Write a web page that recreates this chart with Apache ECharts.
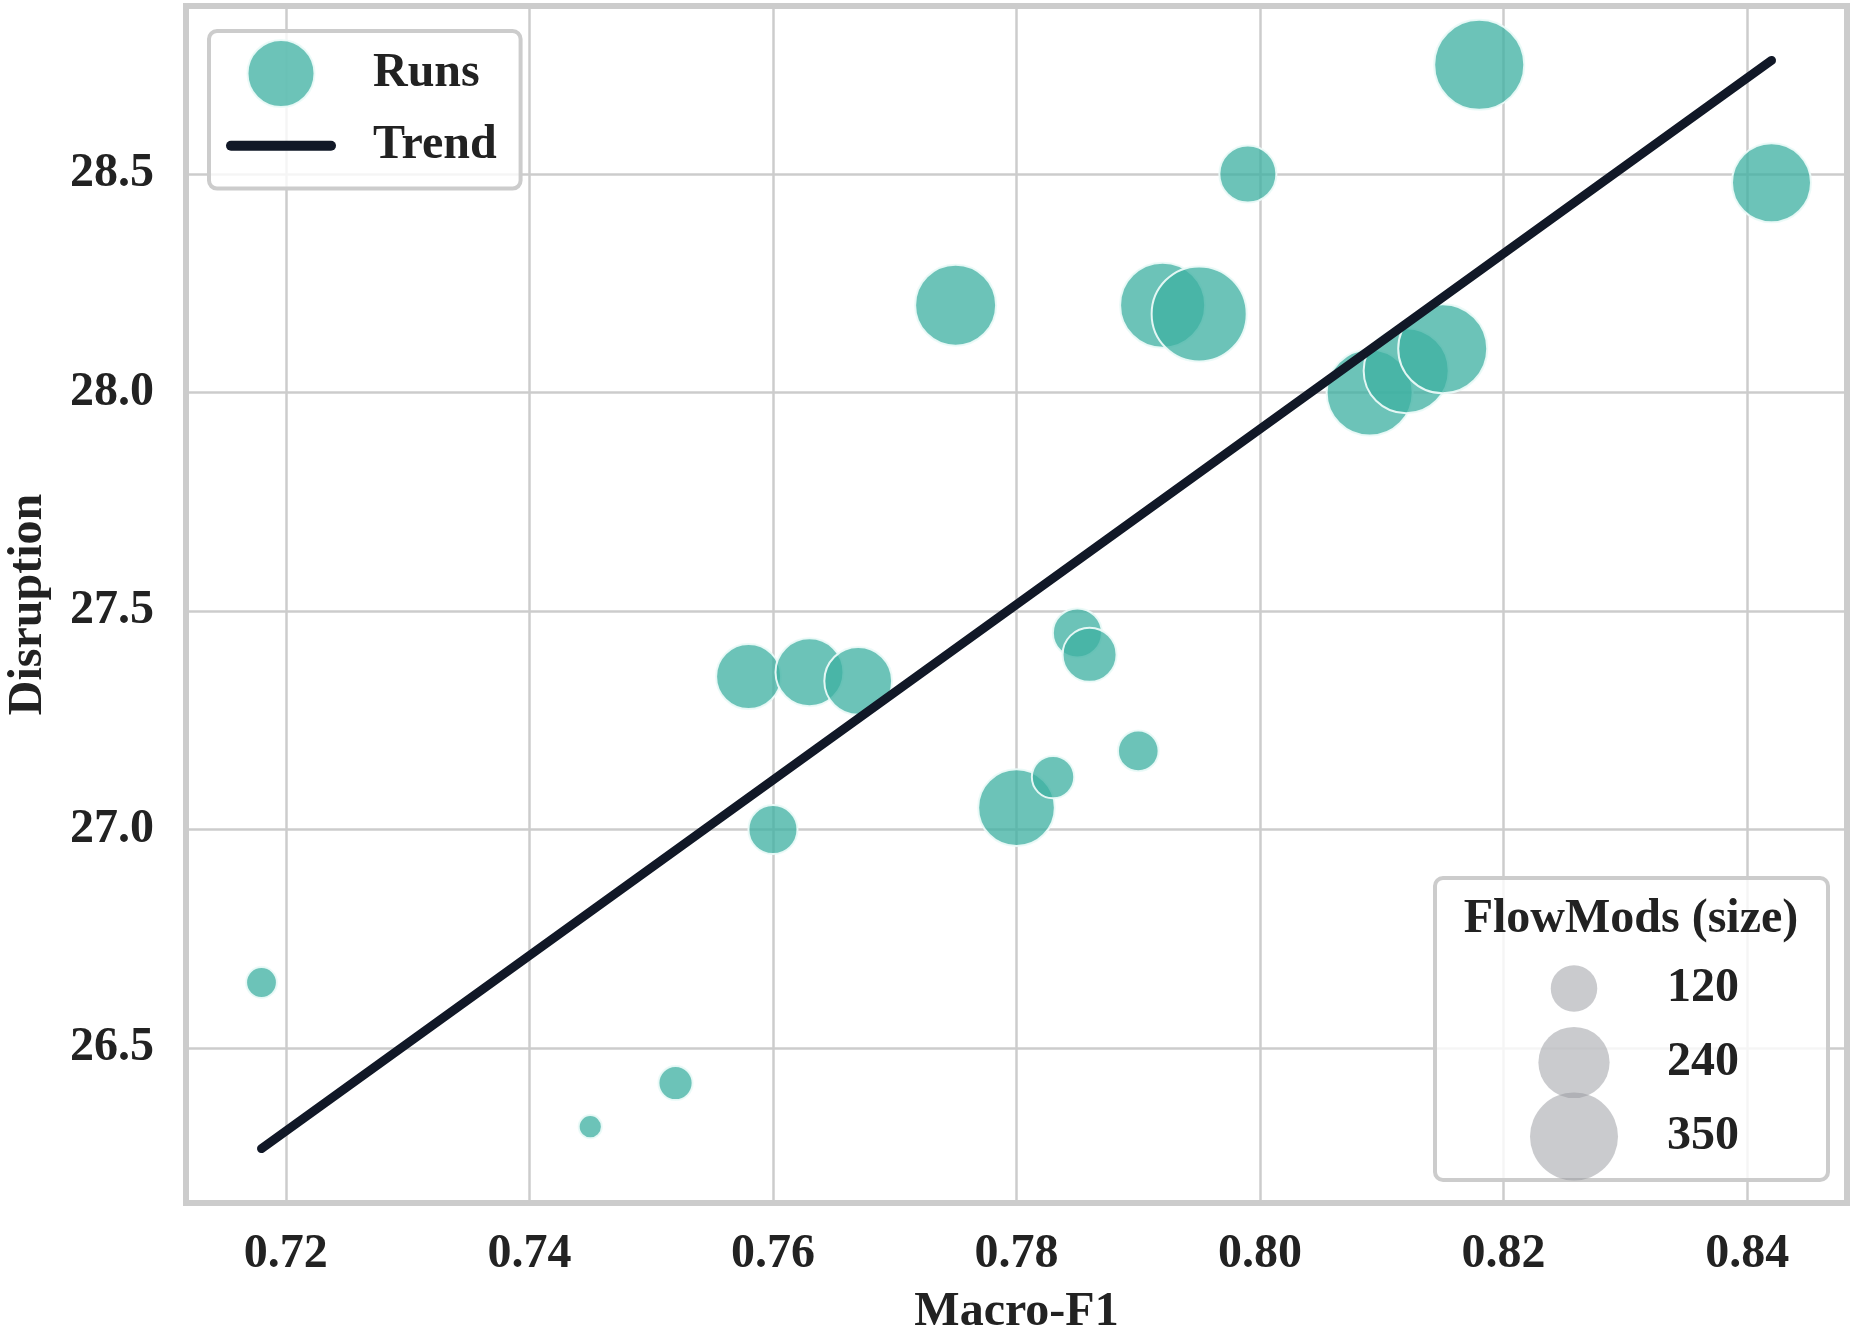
<!DOCTYPE html>
<html lang="en">
<head>
<meta charset="utf-8">
<script src="https://cdn.jsdelivr.net/npm/echarts@6/dist/echarts.min.js"></script>
<style>html,body{margin:0;padding:0;background:#fff;}</style>
</head>
<body>
<div id="main" style="width:1856px;height:1328px;"></div>
<script type="text/javascript">
// values (sorted by Macro-F1, drawing order)
var macroF1    = [0.718, 0.745, 0.752, 0.758, 0.760, 0.763, 0.767, 0.775, 0.780, 0.783, 0.785, 0.786, 0.790, 0.792, 0.795, 0.799, 0.809, 0.812, 0.815, 0.818, 0.842];
var disruption = [26.65, 26.32, 26.42, 27.35, 27.00, 27.36, 27.34, 28.20, 27.05, 27.12, 27.45, 27.40, 27.18, 28.20, 28.18, 28.50, 28.00, 28.05, 28.10, 28.75, 28.48];
var flowMods   = [70, 53, 79, 205, 130, 221, 220, 301, 273, 105, 130, 151, 99, 329, 403, 165, 336, 329, 357, 365, 288];

var sizeLegend = [120, 240, 350];
var xTicks = [0.72, 0.74, 0.76, 0.78, 0.80, 0.82, 0.84];
var yTicks = [26.5, 27.0, 27.5, 28.0, 28.5];

var FONT = '"Liberation Serif", "Times New Roman", serif';
var TEXT = '#222222';
var GRIDC = '#cccccc';
var TREND = '#111827';

// bubble area grows linearly with FlowMods
function bubbleDiameter(v) {
    return Math.sqrt(Math.max(24.27 * v - 750, 0));
}

// least squares trend line
var n = macroF1.length, mx = 0, my = 0;
for (var i = 0; i < n; i++) { mx += macroF1[i]; my += disruption[i]; }
mx /= n; my /= n;
var sxy = 0, sxx = 0;
for (var i = 0; i < n; i++) {
    sxy += (macroF1[i] - mx) * (disruption[i] - my);
    sxx += (macroF1[i] - mx) * (macroF1[i] - mx);
}
var slope = sxy / sxx, icpt = my - slope * mx;
var xLo = Math.min.apply(null, macroF1), xHi = Math.max.apply(null, macroF1);
var trend = [[xLo, icpt + slope * xLo], [xHi, icpt + slope * xHi]];

// axis limits with 5% margins like matplotlib
var allY = disruption.concat([trend[0][1], trend[1][1]]);
var yLo = Math.min.apply(null, allY), yHi = Math.max.apply(null, allY);
var xPad = (xHi - xLo) * 0.05, yPad = (yHi - yLo) * 0.05;

var points = macroF1.map(function (x, i) { return [x, disruption[i], flowMods[i]]; });

var myChart = echarts.init(document.getElementById('main'));

var option = {
    backgroundColor: '#ffffff',
    animation: false,
    grid: [{
        left: 186, right: 9, top: 6, bottom: 125,
        show: true, borderColor: GRIDC, borderWidth: 6, backgroundColor: '#ffffff',
        outerBoundsMode: 'none'
    }, {
        left: 1489, width: 170, top: 951.5, height: 222,
        outerBoundsMode: 'none'
    }],
    legend: {
        left: 209, top: 31,
        orient: 'vertical',
        data: [
            { name: 'Runs' },
            { name: 'Trend', itemStyle: { opacity: 0 },
              lineStyle: { color: TREND, width: 10, cap: 'round', opacity: 1 } }
        ],
        itemWidth: 100, itemHeight: 67, itemGap: 11,
        padding: [8, 24, 16, 17],
        backgroundColor: 'rgba(255,255,255,0.8)',
        borderColor: GRIDC, borderWidth: 4, borderRadius: 8,
        selectedMode: false,
        z: 10,
        textStyle: { fontFamily: FONT, fontWeight: 'bold', fontSize: 48, color: TEXT, padding: [0, 0, 0, 37] }
    },
    graphic: [{
        type: 'rect', z: 15,
        shape: { x: 1435, y: 878, width: 393, height: 302, r: 8 },
        style: { fill: 'rgba(255,255,255,0.8)', stroke: GRIDC, lineWidth: 4 }
    }, {
        type: 'text', z: 16, x: 1631, y: 920,
        style: { text: 'FlowMods (size)', align: 'center', verticalAlign: 'middle',
                 font: 'bold 48px ' + FONT, fill: TEXT }
    }],
    xAxis: [{
        type: 'value', gridIndex: 0,
        min: xLo - xPad, max: xHi + xPad,
        name: 'Macro-F1', nameLocation: 'middle', nameGap: 86,
        nameTextStyle: { fontFamily: FONT, fontWeight: 'bold', fontSize: 48, color: TEXT },
        axisLine: { show: false },
        axisTick: { show: false, customValues: xTicks },
        axisLabel: { customValues: xTicks, margin: 28, fontFamily: FONT, fontWeight: 'bold', fontSize: 48, color: TEXT,
                     formatter: function (v) { return v.toFixed(2); } },
        splitLine: { show: true, lineStyle: { color: GRIDC, width: 2.5 } }
    }, {
        type: 'value', gridIndex: 1, min: -1, max: 1, show: false
    }],
    yAxis: [{
        type: 'value', gridIndex: 0,
        min: yLo - yPad, max: yHi + yPad,
        name: 'Disruption', nameLocation: 'middle', nameGap: 133, nameRotate: 90,
        nameTextStyle: { fontFamily: FONT, fontWeight: 'bold', fontSize: 48, color: TEXT },
        axisLine: { show: false },
        axisTick: { show: false, customValues: yTicks },
        axisLabel: { customValues: yTicks, margin: 32, fontFamily: FONT, fontWeight: 'bold', fontSize: 48, color: TEXT,
                     formatter: function (v) { return v.toFixed(1); } },
        splitLine: { show: true, lineStyle: { color: GRIDC, width: 2.5 } }
    }, {
        type: 'category', gridIndex: 1, position: 'right',
        data: sizeLegend.map(String), inverse: true,
        z: 20,
        axisLine: { show: false }, axisTick: { show: false }, splitLine: { show: false },
        axisLabel: { margin: 8, fontFamily: FONT, fontWeight: 'bold', fontSize: 48, color: TEXT }
    }],
    series: [{
        name: 'Runs',
        type: 'scatter',
        xAxisIndex: 0, yAxisIndex: 0,
        data: points,
        symbol: 'circle',
        symbolSize: function (val) { return bubbleDiameter(val[2]); },
        itemStyle: { color: 'rgba(62,176,162,0.76)', borderColor: 'rgba(235,250,248,0.95)', borderWidth: 2, opacity: 1 },
        z: 3
    }, {
        name: 'Trend',
        type: 'line',
        xAxisIndex: 0, yAxisIndex: 0,
        data: trend,
        symbol: 'none',
        lineStyle: { color: TREND, width: 9, cap: 'round' },
        itemStyle: { color: TREND },
        z: 4
    }, {
        name: 'sizeLegend',
        type: 'scatter',
        xAxisIndex: 1, yAxisIndex: 1,
        data: sizeLegend.map(function (v, i) { return [0, i, v]; }),
        symbolSize: function (val) { return bubbleDiameter(val[2]); },
        itemStyle: { color: 'rgba(150,151,158,0.5)', opacity: 1 },
        z: 20
    }]
};

myChart.setOption(option);
</script>
</body>
</html>
